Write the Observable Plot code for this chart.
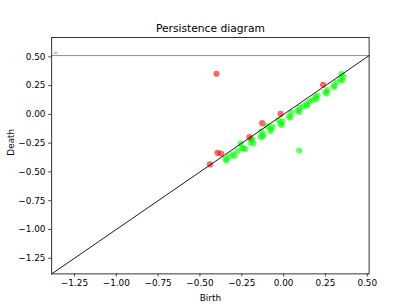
<!DOCTYPE html>
<html>
<head>
<meta charset="utf-8">
<script src="https://cdn.jsdelivr.net/npm/d3@7"></script>
<script src="https://cdn.jsdelivr.net/npm/@observablehq/plot@0.6"></script>
<style>
  html, body { margin: 0; padding: 0; background: #fff; }
</style>
</head>
<body>
<div id="chart"></div>
<script>
// Dimension 1 (green) points: birth / death
const greenBirth = [0.346, 0.340, 0.300, 0.251, 0.191, 0.173, 0.137, 0.119, 0.083, 0.032, -0.018, -0.030, -0.078, -0.099, -0.138, -0.198, -0.192, -0.249, -0.257, -0.275, -0.305, -0.347, 0.093,
  -0.329, -0.240, -0.186, -0.132, -0.120, -0.066, -0.006, 0.047, 0.095, 0.155, 0.203, 0.263, 0.316, 0.358,
  -0.341, -0.293, -0.228, -0.180, -0.126, -0.078, -0.012, 0.041, 0.095, 0.143, 0.197, 0.257, 0.304, 0.352];
const greenDeath = [0.351, 0.303, 0.251, 0.193, 0.149, 0.125, 0.090, 0.069, 0.034, -0.018, -0.079, -0.049, -0.127, -0.101, -0.192, -0.244, -0.214, -0.292, -0.253, -0.318, -0.348, -0.386, -0.314,
  -0.370, -0.296, -0.222, -0.149, -0.175, -0.109, -0.062, 0.017, 0.056, 0.112, 0.164, 0.212, 0.277, 0.329,
  -0.401, -0.361, -0.301, -0.253, -0.196, -0.144, -0.092, -0.027, 0.021, 0.077, 0.134, 0.182, 0.238, 0.295];
// Dimension 0 (red) points: birth / death
const redBirth = [-0.401, 0.236, -0.018, -0.128, -0.204, -0.395, -0.374, -0.440];
const redDeath = [0.353, 0.257, 0.005, -0.076, -0.198, -0.334, -0.340, -0.435];

// Axis extents and the "infinity" level
const axisStart = -1.386;
const infinity = 0.511;
const yTop = 0.669;

const xTicks = [-1.25, -1.00, -0.75, -0.50, -0.25, 0.00, 0.25, 0.50];
const yTicks = [-1.25, -1.00, -0.75, -0.50, -0.25, 0.00, 0.25, 0.50];

const green = greenBirth.map((b, i) => ({birth: b, death: greenDeath[i]}));
const red = redBirth.map((b, i) => ({birth: b, death: redDeath[i]}));
const diag = [{v: axisStart}, {v: infinity}];

const fmt = d3.format(".2f");
const fs = 8.9;

const chart = Plot.plot({
  width: 409,
  height: 307,
  marginLeft: 51.2,
  marginRight: 40.4,
  marginTop: 36.9,
  marginBottom: 33.6,
  style: {fontFamily: "DejaVu Sans", fontSize: fs + "px", background: "#fff", color: "#000"},
  x: {domain: [axisStart, infinity], ticks: xTicks, tickFormat: fmt},
  y: {domain: [axisStart, yTop], ticks: yTicks, tickFormat: fmt},
  marks: [
    Plot.axisX({ticks: xTicks, tickFormat: fmt, tickSize: 3.1, tickPadding: 3.1, fontSize: fs, label: null, strokeWidth: 0.7}),
    Plot.axisY({ticks: yTicks, tickFormat: fmt, tickSize: 3.1, tickPadding: 3.1, fontSize: fs, label: null, strokeWidth: 0.7}),
    Plot.dot(green, {x: "birth", y: "death", r: 3.1, fill: "#00ff00", fillOpacity: 0.6}),
    Plot.dot(red, {x: "birth", y: "death", r: 3.1, fill: "#ff0000", fillOpacity: 0.6}),
    Plot.line(diag, {x: "v", y: "v", stroke: "black", strokeWidth: 0.9}),
    Plot.ruleY([infinity], {x1: axisStart, x2: infinity, stroke: "black", strokeOpacity: 0.5, strokeWidth: 0.9}),
    Plot.text([infinity], {x: axisStart, y: d => d, text: () => "∞", textAnchor: "start", lineAnchor: "bottom", fontSize: 7, fill: "black", fillOpacity: 0.5, dx: 1, dy: -0.5}),
    Plot.frame({stroke: "black", strokeWidth: 0.8}),
    Plot.text([0], {frameAnchor: "top", text: () => "Persistence diagram", dy: -5.5, lineAnchor: "bottom", fontSize: 10.7, fill: "black"}),
    Plot.text([0], {frameAnchor: "bottom", text: () => "Birth", dy: 27, lineAnchor: "bottom", fontSize: fs, fill: "black"}),
    Plot.text([0], {frameAnchor: "left", text: () => "Death", dx: -41, rotate: -90, lineAnchor: "middle", fontSize: fs, fill: "black"})
  ]
});
document.getElementById("chart").appendChild(chart);
</script>
</body>
</html>
